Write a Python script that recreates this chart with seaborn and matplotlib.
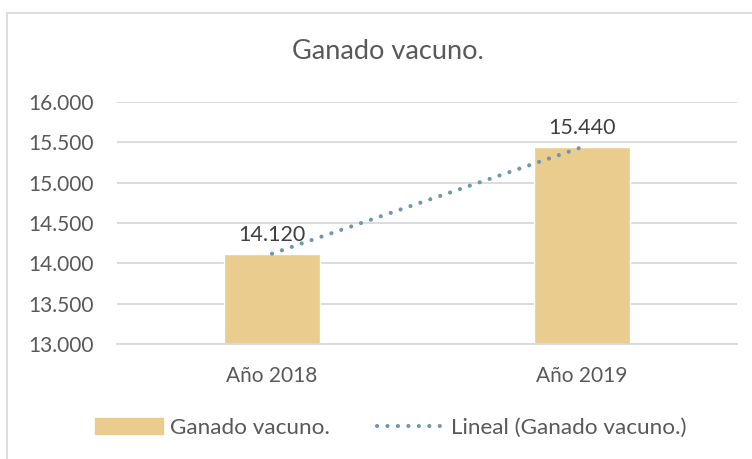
import pandas as pd
import numpy as np
import matplotlib.pyplot as plt
import matplotlib.patches as mpatches
from matplotlib.lines import Line2D
import seaborn as sns

years = ['Año 2018', 'Año 2019']
cattle = [14120, 15440]
yticks = [13000, 13500, 14000, 14500, 15000, 15500, 16000]

bar_color = '#EACC8F'
trend_color = '#6E98AE'
text_color = '#595959'
dots = (0, (0.01, 2.5))

sns.set_theme(style='white')
plt.rcParams['font.family'] = ['Lato', 'DejaVu Sans']

df = pd.DataFrame({'year': years, 'value': cattle})

fig = plt.figure(figsize=(7.52, 4.59), dpi=100)
ax = fig.add_axes([0.1556, 0.2505, 0.8244, 0.5273])

sns.barplot(data=df, x='year', y='value', color=bar_color, width=0.31,
            saturation=1, ax=ax, zorder=2)

# linear trendline through the two points
xs = np.arange(len(cattle))
coef = np.polyfit(xs, cattle, 1)
ax.plot(xs, np.polyval(coef, xs), color=trend_color, lw=3,
        linestyle=dots, dash_capstyle='round', zorder=3)

# data labels
for i, v in enumerate(cattle):
    ax.text(i, v + 110, f'{v:,}'.replace(',', '.'), ha='center', va='bottom',
            fontsize=15.5, color='#404040')

ax.set_ylim(13000, 16000)
ax.set_yticks(yticks)
ax.set_yticklabels([f'{t:,}'.replace(',', '.') for t in yticks])
ax.set_xlim(-0.5, 1.5)
ax.yaxis.grid(True, color='#D9D9D9', lw=1.3, zorder=0)
ax.set_axisbelow(True)
for s in ['left', 'right', 'top']:
    ax.spines[s].set_visible(False)
ax.spines['bottom'].set_color('#D9D9D9')
ax.spines['bottom'].set_linewidth(1.3)
ax.tick_params(axis='both', length=0, labelsize=15, labelcolor=text_color)
ax.tick_params(axis='x', pad=16)
ax.tick_params(axis='y', pad=17)
ax.set_xlabel('')
ax.set_ylabel('')

fig.text(0.516, 0.887, 'Ganado vacuno.', ha='center', va='center',
         fontsize=19.5, color=text_color)

# chart border
fig.patches.append(mpatches.Rectangle((7 / 752, -0.1), 1.2, 1 - 13 / 459 + 0.1,
                                      transform=fig.transFigure, fill=False,
                                      edgecolor='#D9D9D9', lw=1.3))

handles = [mpatches.Patch(color=bar_color, label='Ganado vacuno.'),
           Line2D([0], [0], color=trend_color, lw=3, linestyle=dots,
                  dash_capstyle='round', label='Lineal (Ganado vacuno.)')]
fig.legend(handles=handles, loc='center', bbox_to_anchor=(0.52, 0.0675), ncol=2,
           frameon=False, fontsize=16.2, labelcolor=text_color,
           handlelength=3.0, handleheight=0.75, columnspacing=2.1, handletextpad=0.3)

fig.savefig('out.png', dpi=100)
